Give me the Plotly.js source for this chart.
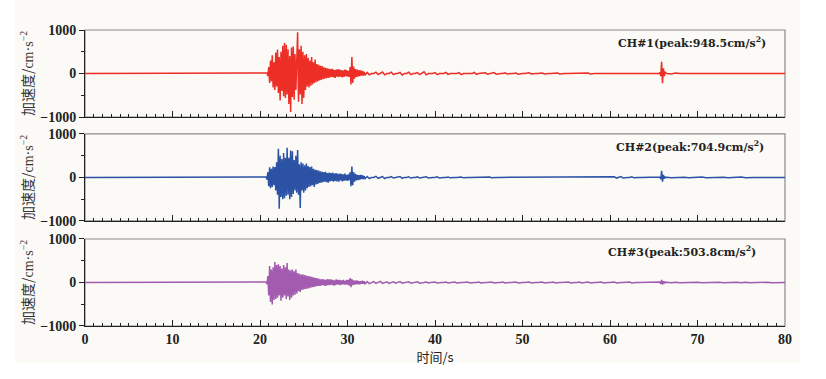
<!DOCTYPE html>
<html>
<head>
<meta charset="utf-8">
<script src="https://cdn.plot.ly/plotly-3.0.1.min.js"></script>
<style>html,body{margin:0;padding:0;background:#fff;}#chart{width:826px;height:379px;}</style>
</head>
<body>
<div id="chart"></div>
<script>
// ---- Data (cm/s^2) ----
var channelNames = ["CH#1", "CH#2", "CH#3"];
var peakLabels = ["948.5", "704.9", "503.8"];
var xTickVals = [0, 10, 20, 30, 40, 50, 60, 70, 80];
var yTickVals = [-1000, 0, 1000];

// segment timing (s)
var quietEnd = 20.5;
var mainStart = 20.5, mainStep = 0.1;
var tailStart = 32.25, tailStep = 0.25;
var spikeStart = 65.6, spikeStep = 0.1;
var lateStart = 66.5, lateStep = 0.5;
var endTime = 80;

var ch1Main = [0,0,0,10,
  -60,150,-220,300,-180,420,-320,260,-380,480,
  -300,550,-450,380,-620,500,-400,640,-520,700,
  -560,660,-480,560,-700,400,-885,600,-540,620,
  -600,450,-380,520,948.5,-650,560,-480,640,-700,
  500,-560,420,-380,450,-300,360,-320,300,-280,
  380,-250,260,-220,320,-200,220,-180,200,-160,
  180,-150,170,-130,140,-120,130,-110,120,-100,
  110,-90,100,-80,110,-90,80,-100,90,-70,
  100,-80,90,-70,80,-90,70,-80,90,-60,
  80,-70,60,-80,150,-250,380,-220,160,-120,
  100,-80,90,-70,80,-60,70,-50,60,-50,
  40,-40];
var ch1Tail = [25,-30,0,0,30,-25,0,35,-30,0,
  0,30,-25,0,0,25,-35,0,0,30,
  -25,0,0,20,-25,0,40,-30,0,0,
  0,20,-25,0,0,0,25,-20,0,0,
  0,0,20,-25,0,0,0,0,0,25,
  -20,0,0,0,15,-15,0,0,20,-15,
  0,0,0,15,-10,0,0,0,10,-15,
  0,0,0,0,15,-10,0,0,0,0,
  10,-10,0,0,0,0,0,10,-10,0,
  0,0,0,0,0,0,0,0,0,0,
  0,10,-10,0,0,0,0,0,0,0,
  0,0,0,0,0,0,0,0,0,0,
  0,0,0,0,0,0,0,0,0,0,
  0,0,0,0];
var ch1Spike = [0,20,-60,270,-225,120,-60,30,0];
var ch1Late = [0,-10,10,0,0,5,-5,0,0,0,0,0,0,0,5,-5,0,0,0,0,0,0,0,0,0,0,0,0];

var ch2Main = [0,0,10,-50,
  120,-200,230,-250,200,-220,250,-180,240,-300,
  350,-400,660,-720,500,-450,420,-500,560,-480,
  450,-420,680,-400,450,-500,620,-450,600,-380,
  400,-300,500,-350,630,-400,300,-704.9,350,-300,
  320,-350,280,-300,320,-250,260,-220,240,-200,
  250,-180,200,-220,180,-160,170,-150,160,-130,
  140,-120,130,-110,120,-100,130,-110,100,-120,
  110,-90,100,-80,110,-100,90,-80,100,-90,
  80,-100,90,-70,80,-90,70,-80,90,-70,
  60,-80,70,-60,120,-200,250,-180,120,-100,
  80,-70,60,-60,50,-50,60,-40,50,-40,
  30,-30];
var ch2Tail = [20,-25,0,0,25,-20,0,20,-25,0,
  0,20,-15,0,0,20,-20,0,0,15,
  -20,0,0,15,-15,0,0,15,-15,0,
  0,0,15,-15,0,0,0,10,-10,0,
  0,0,0,10,-10,0,0,0,0,0,
  0,0,0,0,0,0,10,-10,0,0,
  0,0,0,0,0,0,0,0,0,0,
  0,0,0,0,0,0,0,0,0,0,
  0,0,0,0,0,0,0,0,0,0,
  0,0,0,0,0,0,0,0,0,0,
  0,0,0,0,0,0,0,0,0,0,
  0,0,0,15,-15,0,20,-15,0,0,
  0,15,-10,0,0,0,0,0,0,0,
  0,0,0,0];
var ch2Spike = [0,10,-40,150,-100,60,-30,10,0];
var ch2Late = [5,-5,0,0,5,-5,0,0,10,-5,0,0,0,5,-5,0,0,10,-10,0,0,0,5,-5,0,0,0,0];

var ch3Main = [0,0,10,-40,
  150,-300,380,-450,300,-503.8,350,-400,470,-380,
  400,-350,420,-300,380,-420,320,-350,400,-300,
  350,-380,450,-320,300,-400,280,-350,300,-300,
  260,-280,300,-250,220,-200,200,-220,180,-170,
  190,-160,170,-150,160,-140,150,-130,140,-120,
  130,-110,120,-100,110,-90,100,-80,90,-80,
  70,
  -70,80,-60,70,-80,60,-70,80,-60,70,
  -60,70,-50,60,-70,50,-60,70,-50,60,
  -50,60,-60,50,-40,60,-50,40,-50,60,
  -50,60,-70,100,-110,80,-60,50,-50,40,
  -40,50,-40,30,-40,30,-30,40,-30,30,
  -30];
var ch3Tail = [20,-25,0,20,-20,0,25,-20,0,15,
  -20,0,15,-15,0,20,-15,0,0,15,
  -15,0,0,15,-15,0,0,10,-10,0,
  0,10,-10,0,0,0,10,-10,0,0,
  10,-10,0,0,0,0,10,-10,0,0,
  0,10,-10,0,0,0,0,10,-10,0,
  0,0,10,-10,0,0,0,0,10,-10,
  0,0,0,0,10,-10,0,0,0,0,
  10,-10,0,0,0,10,-10,0,0,0,
  0,0,10,-10,0,0,0,10,-10,0,
  0,10,-10,0,0,0,0,10,-10,0,
  0,0,0,10,-10,0,0,0,0,0,
  10,-10,0,0,0,0,0,0,0,0,
  0,0,0,0];
var ch3Spike = [0,10,-30,60,-50,30,-20,10,0];
var ch3Late = [5,-5,5,-5,0,5,-5,5,-5,0,5,-5,5,-5,0,0,5,-5,5,-5,0,5,-5,5,-5,0,0,0];

var colors = ["#ec2e26", "#2c52a6", "#a25bae"];

// ---- build traces ----
function build(main, tail, spike, late) {
  var xs = [0, quietEnd], ys = [0, 0];
  function add(arr, x0, dx) {
    arr.forEach(function (v, i) { xs.push(+(x0 + i * dx).toFixed(3)); ys.push(v); });
  }
  add(main, mainStart, mainStep);
  add(tail, tailStart, tailStep);
  add(spike, spikeStart, spikeStep);
  add(late, lateStart, lateStep);
  xs.push(endTime); ys.push(0);
  return {x: xs, y: ys};
}
var series = [
  build(ch1Main, ch1Tail, ch1Spike, ch1Late),
  build(ch2Main, ch2Tail, ch2Spike, ch2Late),
  build(ch3Main, ch3Tail, ch3Spike, ch3Late)
];

var axSuffix = ["", "2", "3"];
var traces = series.map(function (s, i) {
  return {
    x: s.x, y: s.y, type: "scatter", mode: "lines",
    xaxis: "x" + axSuffix[i], yaxis: "y" + axSuffix[i],
    line: {color: colors[i], width: 1.5},
    hoverinfo: "skip", showlegend: false
  };
});

var serif = "Liberation Serif, Times New Roman, serif";
var annFont = "DejaVu Serif, Liberation Serif, serif";
var cjk = "Noto Sans CJK SC, sans-serif";
var domains = [[0.706, 1.0], [0.355, 0.649], [0.0, 0.294]];
var labelX = [0.975, 0.973, 0.962];

var layout = {
  width: 826, height: 379,
  margin: {l: 85, r: 41, t: 30, b: 53},
  paper_bgcolor: "#ffffff",
  plot_bgcolor: "rgba(0,0,0,0)",
  shapes: [{
    type: "rect", xref: "paper", yref: "paper",
    x0: -0.1, x1: 1.0214, y0: -0.125, y1: 1.101,
    fillcolor: "#fbfaf6", line: {width: 0}, layer: "below"
  }],
  annotations: []
};

for (var i = 0; i < 3; i++) {
  var xa = "xaxis" + axSuffix[i], ya = "yaxis" + axSuffix[i];
  layout[xa] = {
    domain: [0, 1], range: [0, 80], anchor: "y" + axSuffix[i],
    tickvals: xTickVals, ticks: "inside", ticklen: 6, tickwidth: 1, tickcolor: "#222",
    showticklabels: i === 2,
    minor: {dtick: 1, tick0: 0, ticks: "inside", ticklen: 3, tickcolor: "#222", showgrid: false},
    showgrid: false, zeroline: false,
    showline: true, linecolor: "#222", linewidth: 1,
    tickfont: {family: serif, size: 14, color: "#222", weight: "bold"},
    fixedrange: true
  };
  if (i !== 2) layout[xa].matches = "x3";
  if (i === 2) {
    layout[xa].title = {text: "时间/s", font: {family: cjk, size: 13, color: "#222"}, standoff: 4};
  }
  layout[ya] = {
    domain: domains[i], range: [-1000, 1000], anchor: "x" + axSuffix[i],
    tickvals: yTickVals, ticks: "outside", ticklen: 5, tickwidth: 1, tickcolor: "#222",
    minor: {tickvals: [-500, 500], ticks: "outside", ticklen: 3, tickcolor: "#222", showgrid: false},
    showgrid: false, zeroline: false,
    showline: true, linecolor: "#222", linewidth: 1,
    tickfont: {family: serif, size: 14, color: "#222", weight: "bold"},
    title: {text: "加速度/<span style=\"font-family:'Liberation Serif'\">cm·s<sup>−2</sup></span>",
            font: {family: cjk, size: 14, color: "#333"}, standoff: 3},
    fixedrange: true
  };
  layout.shapes.push({
    type: "rect", xref: "x" + axSuffix[i] + " domain", yref: "y" + axSuffix[i] + " domain",
    x0: 0, x1: 1, y0: 0, y1: 1, line: {color: "#8a8a8a", width: 1.2}, layer: "below"
  });
  layout.annotations.push({
    xref: "x" + axSuffix[i] + " domain", yref: "y" + axSuffix[i] + " domain",
    x: labelX[i], y: 0.855, xanchor: "right", yanchor: "middle", showarrow: false,
    text: channelNames[i] + "(peak:" + peakLabels[i] + "cm/s<sup>2</sup>)",
    font: {family: annFont, size: 11, color: "#222", weight: "bold"}
  });
}

Plotly.newPlot("chart", traces, layout, {displayModeBar: false, staticPlot: true});
</script>
</body>
</html>
